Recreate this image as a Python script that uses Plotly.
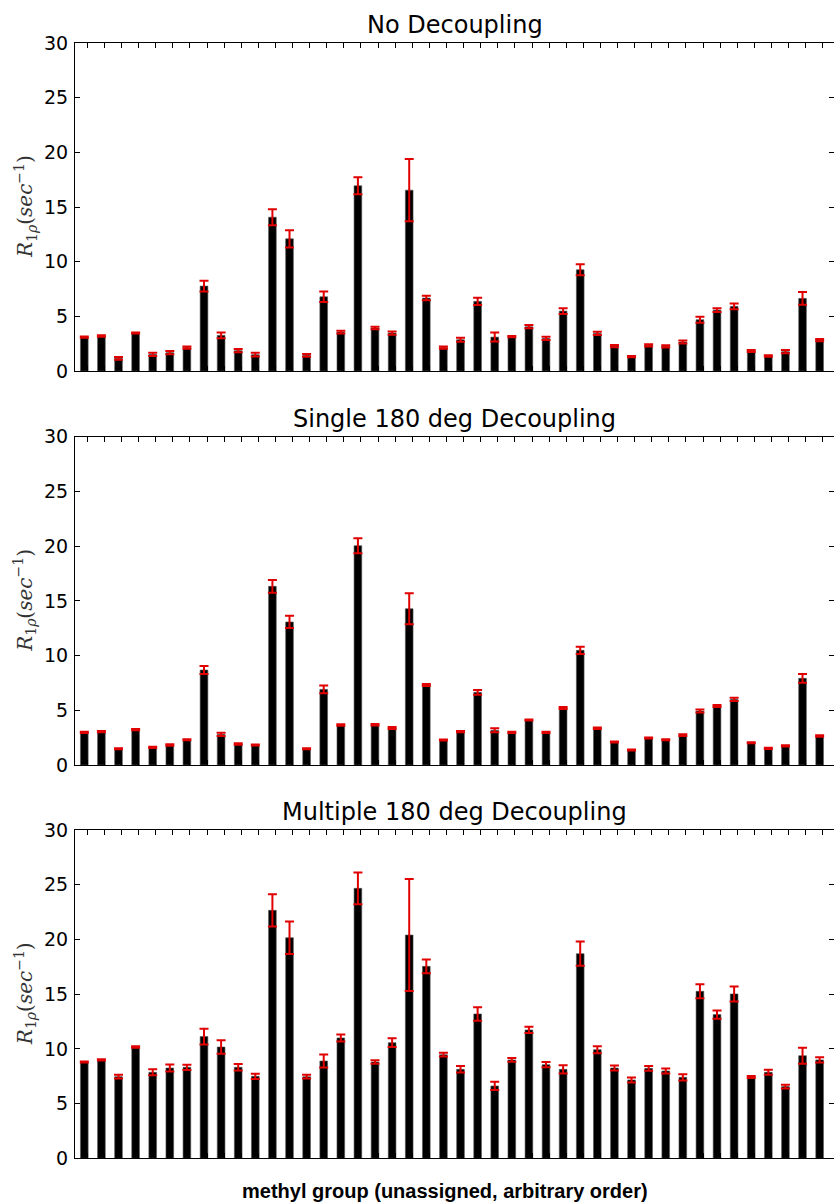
import plotly.graph_objects as go

titles = ["No Decoupling", "Single 180 deg Decoupling", "Multiple 180 deg Decoupling"]

no_dec = [3.1, 3.2, 1.16, 3.47, 1.52, 1.68, 2.13, 7.77, 3.26, 1.86,
          1.49, 14.07, 12.09, 1.43, 6.79, 3.56, 16.94, 3.93, 3.47, 16.54,
          6.67, 2.13, 2.86, 6.37, 3.1, 3.14, 4.05, 2.98, 5.48, 9.26,
          3.44, 2.28, 1.31, 2.35, 2.25, 2.65, 4.69, 5.57, 5.91, 1.83,
          1.37, 1.77, 6.64, 2.83]
no_dec_err = [0.06, 0.06, 0.12, 0.05, 0.14, 0.15, 0.1, 0.49, 0.26, 0.15,
              0.17, 0.73, 0.79, 0.12, 0.47, 0.12, 0.78, 0.12, 0.15, 2.85,
              0.21, 0.1, 0.18, 0.33, 0.41, 0.06, 0.15, 0.15, 0.27, 0.5,
              0.14, 0.1, 0.06, 0.1, 0.1, 0.14, 0.27, 0.17, 0.27, 0.09,
              0.06, 0.15, 0.59, 0.1]

single = [2.98, 3.05, 1.49, 3.23, 1.61, 1.83, 2.31, 8.68, 2.8, 1.92,
          1.83, 16.33, 13.07, 1.49, 6.91, 3.65, 20.04, 3.68, 3.38, 14.28,
          7.31, 2.28, 3.05, 6.64, 3.17, 2.98, 4.11, 2.98, 5.21, 10.48,
          3.35, 2.1, 1.37, 2.47, 2.31, 2.74, 4.93, 5.39, 6.0, 2.04,
          1.52, 1.74, 7.92, 2.65]
single_err = [0.05, 0.05, 0.05, 0.05, 0.05, 0.07, 0.05, 0.37, 0.15, 0.06,
              0.05, 0.58, 0.56, 0.05, 0.35, 0.07, 0.69, 0.06, 0.09, 1.42,
              0.09, 0.05, 0.05, 0.21, 0.18, 0.05, 0.05, 0.05, 0.1, 0.33,
              0.07, 0.05, 0.05, 0.05, 0.05, 0.08, 0.14, 0.09, 0.15, 0.05,
              0.05, 0.06, 0.4, 0.06]

multiple = [8.8, 8.99, 7.46, 10.17, 7.86, 8.25, 8.32, 11.12, 10.17, 8.32,
            7.49, 22.66, 20.16, 7.46, 8.89, 11.0, 24.67, 8.8, 10.57, 20.4,
            17.54, 9.47, 8.13, 13.19, 6.61, 8.99, 11.73, 8.56, 8.13, 18.7,
            9.93, 8.25, 7.16, 8.22, 7.98, 7.4, 15.26, 13.13, 15.02, 7.43,
            7.86, 6.55, 9.38, 8.99]
multiple_err = [0.05, 0.06, 0.17, 0.06, 0.27, 0.32, 0.24, 0.72, 0.62, 0.3,
                0.24, 1.48, 1.48, 0.17, 0.59, 0.32, 1.45, 0.17, 0.4, 5.12,
                0.62, 0.17, 0.3, 0.61, 0.38, 0.17, 0.29, 0.24, 0.38, 1.11,
                0.32, 0.23, 0.23, 0.21, 0.23, 0.29, 0.64, 0.37, 0.69, 0.09,
                0.23, 0.18, 0.73, 0.24]

ytick_vals = [0, 5, 10, 15, 20, 25, 30]
ylabel = "<i>R</i><sub>1<i>ρ</i></sub>(<i>sec</i><sup>−1</sup>)"
xlabel = "<b>methyl group (unassigned, arbitrary order)</b>"

series = [(no_dec, no_dec_err), (single, single_err), (multiple, multiple_err)]
n = len(no_dec)
idx = list(range(n))

W, H = 834, 1202
L = 75
# panel pixel extents (top, bottom)
panels_px = [(43, 371), (436.7, 765), (830, 1158.3)]

fig = go.Figure()
layout = dict(
    width=W, height=H,
    margin=dict(l=L, r=0, t=0, b=0, autoexpand=False),
    paper_bgcolor="white", plot_bgcolor="white",
    showlegend=False,
    font=dict(family="DejaVu Sans", color="black"),
)
annotations = []
for k, ((vals, errs), title) in enumerate(zip(series, titles)):
    xa = "xaxis" if k == 0 else f"xaxis{k+1}"
    ya = "yaxis" if k == 0 else f"yaxis{k+1}"
    xr = "x" if k == 0 else f"x{k+1}"
    yr = "y" if k == 0 else f"y{k+1}"
    top, bot = panels_px[k]
    fig.add_trace(go.Bar(
        x=idx, y=vals, width=0.45, xaxis=xr, yaxis=yr,
        marker=dict(color="black", line=dict(width=0.6, color="#555")),
        error_y=dict(type="data", array=errs, visible=True, color="#e00000",
                     thickness=2, width=4.5),
    ))
    layout[xa] = dict(
        domain=[0, 1], range=[-0.544, 43.84], anchor=yr, automargin=False,
        showline=True, linecolor="black", linewidth=1.2, mirror="ticks",
        ticks="inside", ticklen=5, tickwidth=1, tickcolor="black",
        tickvals=[i + 0.18 for i in idx], showticklabels=False,
        showgrid=False, zeroline=False, fixedrange=True,
    )
    layout[ya] = dict(
        domain=[1 - bot / H, 1 - top / H], range=[0, 30], anchor=xr, automargin=False,
        showline=True, linecolor="black", linewidth=1.2, mirror="ticks",
        ticks="inside", ticklen=5, tickwidth=1, tickcolor="black",
        tickvals=ytick_vals, tickfont=dict(family="DejaVu Sans", size=19, color="black"),
        showgrid=False, zeroline=False, fixedrange=True, ticklabelstandoff=2,
    )
    annotations.append(dict(
        text=title, xref="paper", yref="paper", x=0.5, y=1 - top / H,
        xanchor="center", yanchor="bottom", yshift=2, showarrow=False,
        font=dict(family="DejaVu Sans", size=24, color="black"),
    ))
    annotations.append(dict(
        text=ylabel, xref="paper", yref="paper", x=(25 - L) / (W - L),
        y=1 - (top + bot) / 2 / H, xanchor="center", yanchor="middle",
        textangle=-90, showarrow=False,
        font=dict(family="DejaVu Serif", size=20, color="#333333"),
    ))

annotations.append(dict(
    text=xlabel, xref="paper", yref="paper", x=(445 - L) / (W - L),
    y=1 - 1191 / H, xanchor="center", yanchor="middle", showarrow=False,
    font=dict(family="Liberation Sans", size=20, color="black"),
))
layout["annotations"] = annotations
fig.update_layout(**layout)
fig.write_html("out.html")
